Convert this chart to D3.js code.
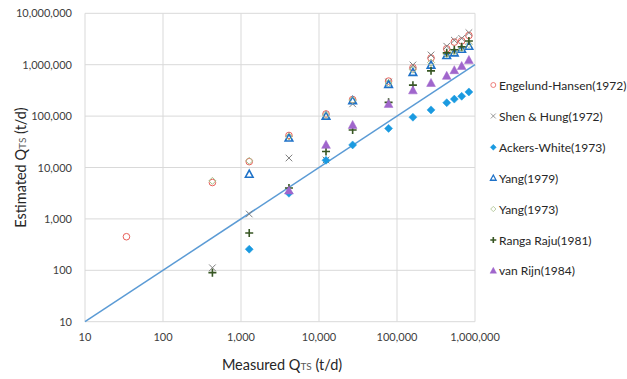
<!DOCTYPE html>
<html>
<head>
<meta charset="utf-8">
<script src="https://cdn.jsdelivr.net/npm/d3@7/dist/d3.min.js"></script>
<style>
  html, body { margin: 0; padding: 0; background: #fff; }
  svg { display: block; font-family: Lato, "Noto Sans", sans-serif; }
  .grid line { stroke: #d9d9d9; stroke-width: 1; }
  .tick-lbl { font-size: 11px; fill: #404040; }
  .title { font-size: 14.5px; fill: #262626; }
  .legend text { font-size: 12px; fill: #262626; }
</style>
</head>
<body>
<div id="chart"></div>
<script>
// measured sediment discharge (t/d) for each column of points
var measured = [34, 430, 1275, 4120, 12300, 27000, 78000, 160000, 273000, 434000, 543000, 675000, 835000];

// estimated values per formula, aligned with `measured` (null = no point)
var engelund = [450, 5100, 13000, 42000, 110000, 210000, 480000, 875000, 1350000, 2040000, 2750000, 2900000, 3700000];
var shenHung = [null, 112, 1245, 15300, 14000, 173000, 460000, 990000, 1550000, 2290000, 3000000, 3250000, 4200000];
var ackers   = [null, null, 257, 3150, 13800, 27500, 57700, 95000, 132000, 182000, 214000, 243000, 295000];
var yang79   = [null, null, 7400, 37500, 100000, 200000, 415000, 710000, 980000, 1510000, 1700000, 2000000, 2290000];
var yang73   = [null, 5500, 13500, 40000, 105000, 205000, 440000, 800000, 1100000, 1600000, 1800000, 2100000, 2500000];
var ranga    = [null, 90, 532, 4000, 20500, 53700, 185000, 400000, 760000, 1700000, 1950000, 2240000, 2900000];
var vanRijn  = [null, null, null, 3560, 27500, 67000, 172000, 316000, 440000, 605000, 780000, 940000, 1230000];

var seriesNames = ["Engelund-Hansen(1972)", "Shen & Hung(1972)", "Ackers-White(1973)", "Yang(1979)", "Yang(1973)", "Ranga Raju(1981)", "van Rijn(1984)"];
var tickVals = [10, 100, 1000, 10000, 100000, 1000000];
var yTickVals = [10, 100, 1000, 10000, 100000, 1000000, 10000000];

var W = 627, H = 379;
var L = 85, R = 475, T = 13.3, B = 321.7;

var svg = d3.select("#chart").append("svg").attr("width", W).attr("height", H);
var x = d3.scaleLog().domain([10, 1000000]).range([L, R]);
var y = d3.scaleLog().domain([10, 10000000]).range([B, T]);
var fmt = d3.format(",");

// gridlines
var grid = svg.append("g").attr("class", "grid");
grid.selectAll(".gx").data(tickVals).enter().append("line")
  .attr("x1", function (d) { return x(d); }).attr("x2", function (d) { return x(d); })
  .attr("y1", T).attr("y2", B);
grid.selectAll(".gy").data(yTickVals).enter().append("line")
  .attr("x1", L).attr("x2", R)
  .attr("y1", function (d) { return y(d); }).attr("y2", function (d) { return y(d); });

// tick labels
svg.selectAll(".xl").data(tickVals).enter().append("text").attr("class", "tick-lbl")
  .attr("x", function (d) { return x(d); }).attr("y", 341).attr("text-anchor", "middle")
  .text(function (d) { return fmt(d); });
svg.selectAll(".yl").data(yTickVals).enter().append("text").attr("class", "tick-lbl")
  .attr("x", 72).attr("y", function (d) { return y(d) + 4; }).attr("text-anchor", "end")
  .text(function (d) { return fmt(d); });

// axis titles
var xt = svg.append("text").attr("class", "title").attr("x", 282).attr("y", 370).attr("text-anchor", "middle");
xt.append("tspan").text("Measured Q");
xt.append("tspan").attr("font-size", "10px").attr("fill", "#595959").text("TS");
xt.append("tspan").text(" (t/d)");
var yt = svg.append("text").attr("class", "title").attr("text-anchor", "middle")
  .attr("transform", "translate(26," + ((T + B) / 2) + ") rotate(-90)");
yt.append("tspan").text("Estimated Q");
yt.append("tspan").attr("font-size", "10px").attr("fill", "#595959").text("TS");
yt.append("tspan").text(" (t/d)");

// 1:1 line
svg.append("line").attr("x1", x(10)).attr("y1", y(10)).attr("x2", x(1000000)).attr("y2", y(1000000))
  .attr("stroke", "#5b9bd5").attr("stroke-width", 1.5);

// marker styles, one per series
var styles = [
  { kind: "circle", r: 3.3, fill: "none", stroke: "#e8605a", sw: 1 },
  { kind: "x", r: 3.3, fill: "none", stroke: "#7f7f7f", sw: 1 },
  { kind: "diamond", r: 4, fill: "#1a9ae0", stroke: "#1a9ae0", sw: 0.5 },
  { kind: "triangle", r: 4, fill: "none", stroke: "#1f72c8", sw: 1.6 },
  { kind: "diamond", r: 3.5, fill: "none", stroke: "#a8c08c", sw: 1 },
  { kind: "plus", r: 4, fill: "#375623", stroke: "none", sw: 0 },
  { kind: "triangle", r: 4.6, fill: "#a066cc", stroke: "#a066cc", sw: 0.5 }
];
var allSeries = [engelund, shenHung, ackers, yang79, yang73, ranga, vanRijn];

function symPath(st, k) {
  var s = st.r * (k || 1);
  switch (st.kind) {
    case "circle":
      return "M" + s + ",0A" + s + "," + s + " 0 1,1 " + (-s) + ",0A" + s + "," + s + " 0 1,1 " + s + ",0Z";
    case "x":
      return "M" + (-s) + "," + (-s) + "L" + s + "," + s + "M" + (-s) + "," + s + "L" + s + "," + (-s);
    case "diamond":
      return "M0," + (-s) + "L" + s + ",0L0," + s + "L" + (-s) + ",0Z";
    case "triangle":
      return "M0," + (-s) + "L" + (s * 0.95) + "," + (s * 0.75) + "L" + (-s * 0.95) + "," + (s * 0.75) + "Z";
    case "plus":
      var w = 0.8;
      return "M" + (-s) + "," + (-w) + "H" + s + "V" + w + "H" + (-s) + "Z" +
             "M" + (-w) + "," + (-s) + "H" + w + "V" + s + "H" + (-w) + "Z";
  }
}

allSeries.forEach(function (vals, i) {
  var st = styles[i];
  var pts = vals.map(function (v, j) { return { x: measured[j], y: v }; })
    .filter(function (d) { return d.y != null; });
  svg.append("g").selectAll("path").data(pts).enter().append("path")
    .attr("transform", function (d) { return "translate(" + x(d.x) + "," + y(d.y) + ")"; })
    .attr("d", symPath(st))
    .attr("fill", st.fill).attr("stroke", st.stroke).attr("stroke-width", st.sw);
});

// legend
var legY = [85, 116, 147.3, 178, 209, 240, 270.7];
var leg = svg.append("g").attr("class", "legend");
seriesNames.forEach(function (name, i) {
  var st = styles[i];
  leg.append("path").attr("transform", "translate(493.3," + legY[i] + ")")
    .attr("d", symPath(st, 0.75))
    .attr("fill", st.fill).attr("stroke", st.stroke).attr("stroke-width", st.sw * 0.8);
  leg.append("text").attr("x", 499).attr("y", legY[i] + 4.5).text(name);
});
</script>
</body>
</html>
